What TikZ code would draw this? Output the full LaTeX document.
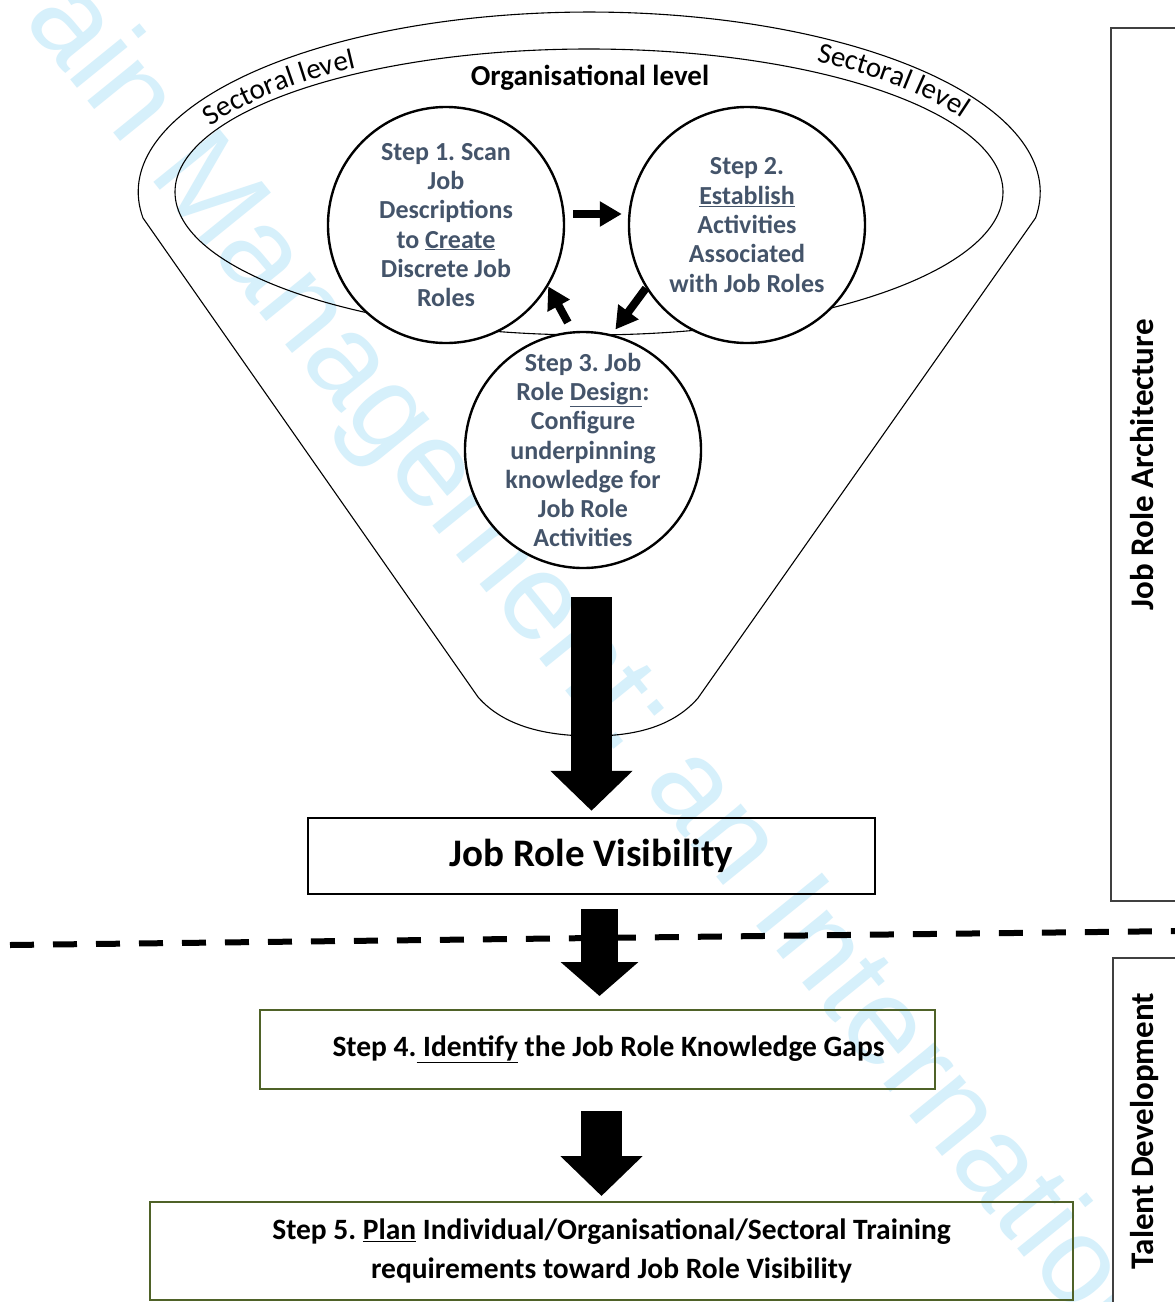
\documentclass[tikz,border=0pt]{standalone}
\usepackage{fontspec}
\setmainfont{Carlito}
\newfontfamily\wmfont{Liberation Sans}
\usetikzlibrary{arrows.meta,decorations.text}
\definecolor{stepblue}{RGB}{68,84,106}
\definecolor{boxgreen}{RGB}{79,98,40}
\definecolor{wmblue}{RGB}{214,240,251}
\frenchspacing
\begin{document}
\begin{tikzpicture}[x=1pt,y=1pt,
  thinline/.style={line width=1.1pt, draw=black},
  stepcircle/.style={circle, draw=black, line width=2.4pt, fill=white, minimum size=236pt, inner sep=0pt},
  steptext/.style={text=stepblue, font=\fontsize{26}{29.3}\selectfont\bfseries, align=center, inner sep=0pt},
  smallarrow/.style={line width=8pt, -{Triangle[width=24pt,length=22pt]}},
  bigarrowA/.style={line width=41pt, -{Triangle[width=80pt,length=40pt]}},
  bigarrowB/.style={line width=37pt, -{Triangle[width=76pt,length=34pt]}},
  greenbox/.style={draw=boxgreen, line width=2pt, inner sep=0pt, align=center, font=\fontsize{29.5}{39}\selectfont\bfseries},
  sidebox/.style={draw=black!75, line width=1.3pt, fill=white},
  sidetext/.style={rotate=90, font=\fontsize{33}{38}\selectfont\bfseries},
  leveltext/.style={font=\fontsize{29}{34}\selectfont\bfseries}
]
\useasboundingbox (0,0) rectangle (1175,-1302);
\clip (0,0) rectangle (1175,-1302);
\fill[white] (0,0) rectangle (1175,-1302);

% watermark
\node[text=wmblue, rotate=-51, font=\wmfont\fontsize{123}{123}\selectfont] (wm) at (594,-675) {ain Management: an Internation};

% funnel (sectoral level)
\draw[thinline] (143,-218) arc[start angle=188.3, end angle=-8.3, x radius=451, y radius=180]
  -- (698,-698) .. controls (672,-728) and (632,-736) .. (592,-736)
  .. controls (550,-736) and (505,-728) .. (478,-697) -- cycle;
% organisational level ellipse
\draw[thinline] (589,-192) ellipse [x radius=414, y radius=143];

% curved labels
\path[decorate, decoration={text along path, text align=center,
  text={|\fontsize{29}{33}\selectfont|Sectoral level}}]
  (589,-192) ++(164:421 and 149) arc[start angle=164, end angle=118, x radius=421, y radius=149];
\path[decorate, decoration={text along path, text align=center,
  text={|\fontsize{29}{33}\selectfont|Sectoral level}}]
  (589,-192) ++(62:424 and 155) arc[start angle=62, end angle=21, x radius=424, y radius=155];

\node[leveltext] (org) at (590,-78) {Organisational level};

% step circles
\node[stepcircle] (c1) at (446,-225) {};
\node[stepcircle] (c2) at (747,-225) {};
\node[stepcircle] (c3) at (583,-450) {};
\node[steptext] (t1) at (446,-225) {Step 1. Scan\\Job\\Descriptions\\to \underline{Create}\\Discrete Job\\Roles};
\node[steptext] (t2) at (747,-225) {Step 2.\\\underline{Establish}\\Activities\\Associated\\with Job Roles};
\node[steptext] (t3) at (583,-450) {Step 3. Job\\Role \underline{Design}:\\Configure\\underpinning\\knowledge for\\Job Role\\Activities};

% cycle arrows
\draw[smallarrow, shorten <=8pt, shorten >=6pt] ([yshift=11pt]c1.east) -- ([yshift=11pt]c2.west);
\draw[smallarrow, shorten >=6pt] (c2.212) -- (c3.76);
\draw[smallarrow, shorten <=10pt] (c3.95) -- (c1.-31);

% job role visibility
\node[draw=black, line width=2.5pt, minimum width=567pt, minimum height=76pt, inner sep=0pt,
  font=\fontsize{39}{44}\selectfont\bfseries] (vis) at (591.5,-856) {Job Role Visibility};
\coordinate (a1s) at (591.5,-597);
\draw[bigarrowA, shorten >=6pt] (a1s) -- (a1s |- vis.north);

% dashed separator
\coordinate (dl) at (10,-945);
\coordinate (dr) at (1180,-931);
\draw[line width=6pt, dash pattern=on 24pt off 19pt] (dl) -- (dr);

% step 4 and 5
\node[greenbox, minimum width=675pt, minimum height=79pt] (s4) at (597.5,-1049.5)
  {\hspace*{22pt}Step 4.\underline{\ Identify} the Job Role Knowledge Gaps};
\node[greenbox, minimum width=923pt, minimum height=98pt] (s5) at (611.5,-1251)
  {Step 5. \underline{Plan} Individual/Organisational/Sectoral Training\\requirements toward Job Role Visibility};

\draw[bigarrowB, shorten <=14pt, shorten >=13pt] ([xshift=2pt]s4.north |- vis.south) -- ([xshift=2pt]s4.north);
\draw[bigarrowA, shorten <=21pt, shorten >=5pt] ([xshift=4pt]s4.south) -- ([xshift=4pt]s4.south |- s5.north);

% side boxes
\draw[sidebox] (1111,-28) rectangle (1200,-901);
\node[sidetext] (jra) at (1142,-465) {Job Role Architecture};
\draw[sidebox] (1113,-958) rectangle (1200,-1320);
\node[sidetext] (td) at (1145,-1131) {Talent Development};
\end{tikzpicture}
\end{document}
